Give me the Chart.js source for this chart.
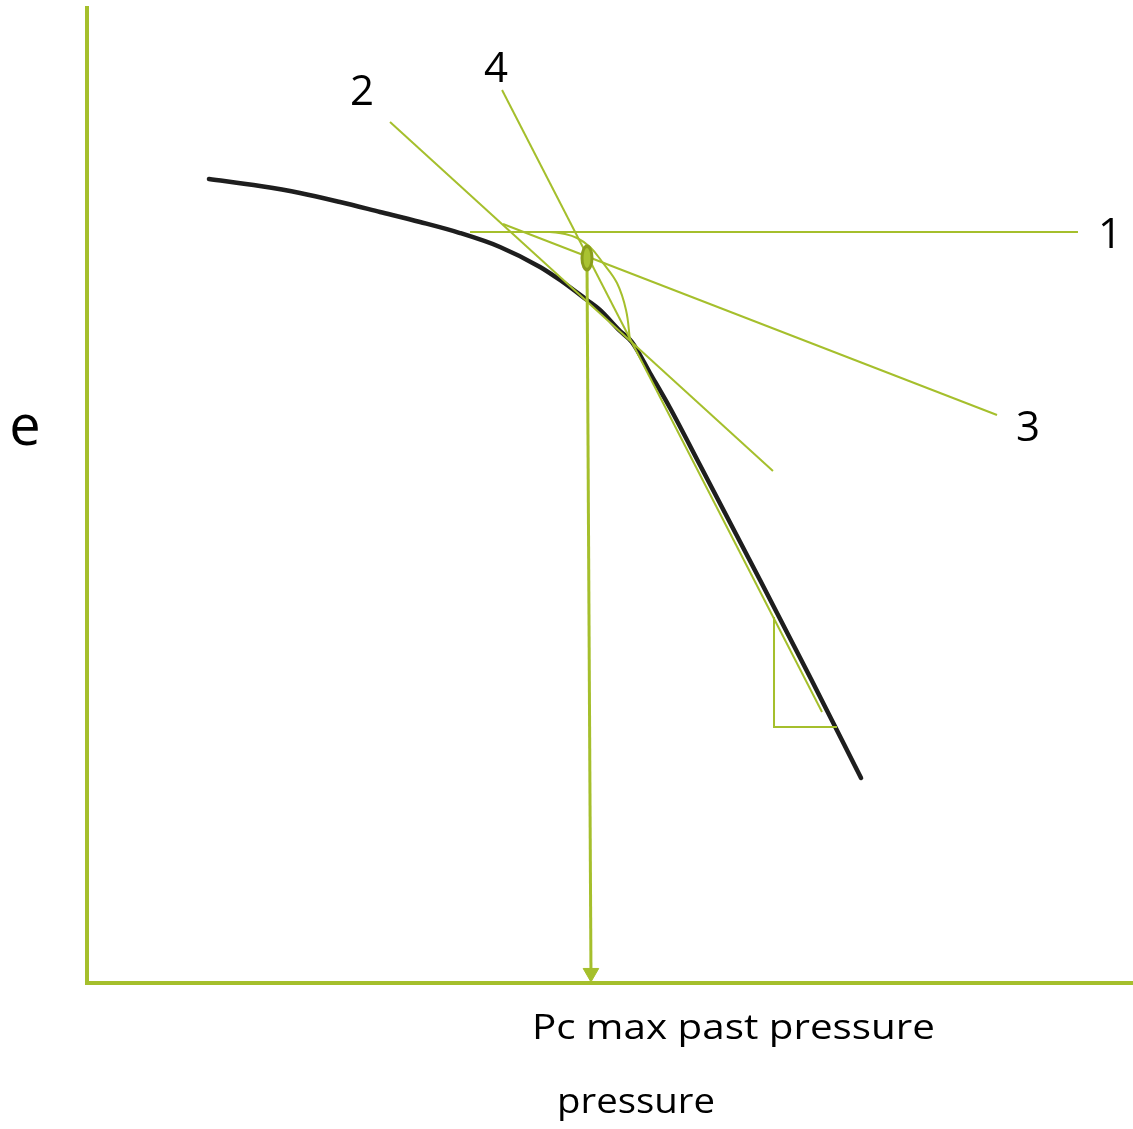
<!DOCTYPE html>
<html>
<head>
<meta charset="utf-8">
<script src="https://cdn.jsdelivr.net/npm/chart.js@4/dist/chart.umd.min.js"></script>
<style>
  html, body { margin: 0; padding: 0; background: #fff; }
  canvas { display: block; }
</style>
</head>
<body>
<canvas id="chart" width="1133" height="1129"></canvas>
<script>
// Compression curve: void ratio e against pressure (axis units 0–100)
const curveX = [11.66, 16.54, 20.36, 24.19, 28.01, 31.84, 35.66, 39.48, 43.31, 45.22, 47.80, 49.04, 50.96, 52.10, 53.82, 55.74, 58.60, 64.34, 69.12, 74.00];
const curveY = [82.46, 81.74, 81.03, 80.10, 79.08, 78.05, 76.92, 75.49, 73.44, 72.10, 70.05, 69.03, 66.87, 65.74, 62.56, 58.97, 53.13, 41.33, 31.38, 21.03];

// Construction lines 1–4
const line1X = [36.62, 94.74];
const line1Y = [77.03, 77.03];
const line2X = [28.97, 65.58];
const line2Y = [88.31, 52.51];
const line3X = [39.77, 87.00];
const line3Y = [77.85, 58.26];
const line4X = [39.68, 70.27];
const line4Y = [91.59, 27.79];

// Arc between line 1 and the curve
const arcX = [44.26, 45.70, 46.85, 48.09, 49.33, 50.67, 51.53, 51.91];
const arcY = [77.03, 76.82, 76.41, 75.49, 73.85, 71.79, 69.03, 65.95];

// Pc point and its projection onto the pressure axis
const pcX = [47.80];
const pcY = [74.36];
const dropX = [47.80, 48.18];
const dropY = [74.36, 1.33];
const tipX = [48.18];
const tipY = [1.03];

// Slope triangle on the virgin compression line
const slopeX = [65.68, 65.68, 71.70];
const slopeY = [37.54, 26.26, 26.26];

const lineLabels = ['1', '2', '3', '4'];
const yTitle = 'e';
const xTitleLines = ['Pc max past pressure', 'pressure'];

const GREEN = '#a5bf2c';
const zip = (xs, ys) => xs.map((v, i) => ({ x: v, y: ys[i] }));

function ellipseMarker(w, h) {
  const c = document.createElement('canvas');
  c.width = w; c.height = h;
  const g = c.getContext('2d');
  g.fillStyle = '#8a9d1c';
  g.beginPath(); g.ellipse(w / 2, h / 2, w / 2 - 0.5, h / 2 - 0.5, 0, 0, Math.PI * 2); g.fill();
  g.fillStyle = '#a9c231';
  g.beginPath(); g.ellipse(w / 2, h / 2, w / 4, h / 2 - 4, 0, 0, Math.PI * 2); g.fill();
  return c;
}

function greenLine(xs, ys, width, tension) {
  return {
    data: zip(xs, ys), showLine: true, borderColor: GREEN, borderWidth: width,
    pointRadius: 0, tension: tension || 0, fill: false
  };
}

function drawFitted(ctx, text, left, baseline, width, font) {
  ctx.font = font;
  const m = ctx.measureText(text).width;
  ctx.save();
  ctx.translate(left, baseline);
  ctx.scale(width / m, 1);
  ctx.textAlign = 'left';
  ctx.textBaseline = 'alphabetic';
  ctx.fillText(text, 0, 0);
  ctx.restore();
}

const textPlugin = {
  id: 'diagramText',
  afterDraw(chart) {
    const { ctx, chartArea: a, scales: { x, y } } = chart;
    ctx.save();
    ctx.fillStyle = '#000';
    ctx.textAlign = 'center';
    ctx.textBaseline = 'alphabetic';
    ctx.font = '42px "Open Sans"';
    const anchors = [
      [line1X[1], line1Y[1], 32, 16],
      [line2X[0], line2Y[0], -28, -17],
      [line3X[1], line3Y[1], 31, 26],
      [line4X[0], line4Y[0], -6, -8]
    ];
    anchors.forEach((p, i) => {
      ctx.fillText(lineLabels[i], x.getPixelForValue(p[0]) + p[2], y.getPixelForValue(p[1]) + p[3]);
    });
    ctx.font = '56px "Open Sans"';
    ctx.fillText(yTitle, a.left - 62, a.top + 437);
    drawFitted(ctx, xTitleLines[0], a.left + 445, a.bottom + 56, 403, '34px "Open Sans"');
    drawFitted(ctx, xTitleLines[1], a.left + 470, a.bottom + 130, 158, '34px "Open Sans"');
    ctx.restore();
  }
};

const axisOptions = {
  type: 'linear', min: 0, max: 100,
  grid: { display: false, drawTicks: false, tickLength: 0 },
  ticks: { display: false, padding: 0 },
  border: { display: true, color: GREEN, width: 4 }
};

new Chart(document.getElementById('chart'), {
  type: 'scatter',
  data: {
    datasets: [
      {
        data: zip(tipX, tipY), pointStyle: 'triangle', rotation: 180, pointRadius: 9,
        backgroundColor: GREEN, borderColor: GREEN, borderWidth: 1, showLine: false
      },
      {
        data: zip(pcX, pcY), pointStyle: ellipseMarker(14, 28), pointRadius: 10, showLine: false
      },
      greenLine(dropX, dropY, 3),
      greenLine(line1X, line1Y, 2),
      greenLine(line2X, line2Y, 2),
      greenLine(line3X, line3Y, 2),
      greenLine(line4X, line4Y, 2),
      greenLine(arcX, arcY, 2, 0.4),
      greenLine(slopeX, slopeY, 2),
      {
        data: zip(curveX, curveY), showLine: true, borderColor: '#1e1e1e', borderWidth: 4.5,
        pointRadius: 0, cubicInterpolationMode: 'monotone', fill: false, borderCapStyle: 'round'
      }
    ]
  },
  options: {
    responsive: false,
    animation: false,
    events: [],
    layout: { autoPadding: false, padding: { left: 87, top: 8, right: 0, bottom: 146 } },
    plugins: { legend: { display: false }, tooltip: { enabled: false } },
    scales: {
      x: { ...axisOptions },
      y: { ...axisOptions }
    }
  },
  plugins: [textPlugin]
});
</script>
</body>
</html>
